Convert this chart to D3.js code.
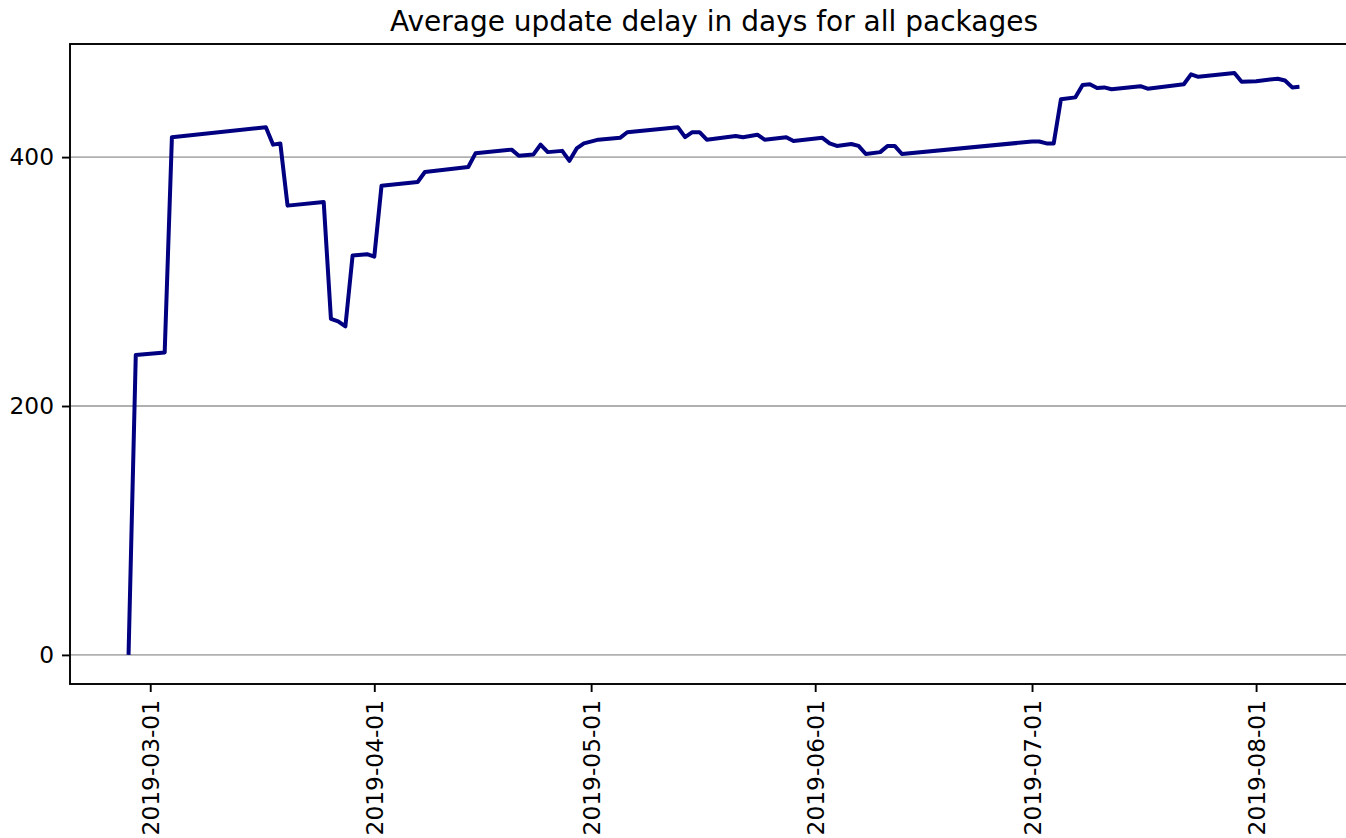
<!DOCTYPE html>
<html>
<head>
<meta charset="utf-8">
<script src="https://cdn.jsdelivr.net/npm/d3@7"></script>
<style>
  body { margin: 0; background: #fff; overflow: hidden; }
  text { font-family: "DejaVu Sans", sans-serif; fill: #000; }
</style>
</head>
<body>
<div id="chart"></div>
<script>
// dates and average delay (days)
var dates = [
  "2019-02-26", "2019-02-27", "2019-03-03", "2019-03-04", "2019-03-17", "2019-03-18",
  "2019-03-19", "2019-03-20", "2019-03-25", "2019-03-26", "2019-03-27", "2019-03-28",
  "2019-03-29", "2019-03-31", "2019-04-01", "2019-04-02", "2019-04-07", "2019-04-08",
  "2019-04-14", "2019-04-15", "2019-04-20", "2019-04-21", "2019-04-23", "2019-04-24",
  "2019-04-25", "2019-04-27", "2019-04-28", "2019-04-29", "2019-04-30", "2019-05-02",
  "2019-05-05", "2019-05-06", "2019-05-13", "2019-05-14", "2019-05-15", "2019-05-16",
  "2019-05-17", "2019-05-21", "2019-05-22", "2019-05-24", "2019-05-25", "2019-05-28",
  "2019-05-29", "2019-06-02", "2019-06-03", "2019-06-04", "2019-06-06", "2019-06-07",
  "2019-06-08", "2019-06-10", "2019-06-11", "2019-06-12", "2019-06-13", "2019-07-01",
  "2019-07-02", "2019-07-03", "2019-07-04", "2019-07-05", "2019-07-07", "2019-07-08",
  "2019-07-09", "2019-07-10", "2019-07-11", "2019-07-12", "2019-07-16", "2019-07-17",
  "2019-07-22", "2019-07-23", "2019-07-24", "2019-07-29", "2019-07-30", "2019-08-01",
  "2019-08-04", "2019-08-05", "2019-08-06", "2019-08-07"
];
var delays = [
  0, 241, 243, 416, 424, 410,
  411, 361, 364, 270, 268, 264,
  321, 322, 320, 377, 380, 388,
  392, 403, 406, 401, 402, 410,
  404, 405, 397, 407, 411, 414,
  415.5, 420, 424, 416, 420, 420,
  414, 417, 416, 418, 414, 416,
  413, 415.5, 411, 409, 410.5, 409,
  402.5, 404, 409, 409, 402.5, 412.5,
  412.5, 411, 411, 446.5, 448, 458,
  458.5, 455.5, 456, 454.5, 457, 455,
  458.5, 466.5, 464.5, 467.5, 460.5, 461,
  463, 461.5, 456, 456.5
];
var yTicks = [0, 200, 400];
var xTicks = ["2019-03-01", "2019-04-01", "2019-05-01", "2019-06-01", "2019-07-01", "2019-08-01"];
var title = "Average update delay in days for all packages";

var width = 1346, height = 838;
var plotLeft = 70, plotRight = 1358, plotTop = 44, plotBottom = 684;

var parse = d3.timeParse("%Y-%m-%d");
var data = dates.map(function(d, i) { return { date: parse(d), value: delays[i] }; });

var svg = d3.select("#chart")
  .append("svg")
    .attr("width", width)
    .attr("height", height);

// matplotlib style 5% margins
var xExt = d3.extent(data, d => d.date);
var xPad = (xExt[1] - xExt[0]) * 0.05;
var x = d3.scaleTime()
  .domain([new Date(+xExt[0] - xPad), new Date(+xExt[1] + xPad)])
  .range([plotLeft, plotRight]);

var yExt = d3.extent(data, d => d.value);
var yPad = (yExt[1] - yExt[0]) * 0.05;
var y = d3.scaleLinear()
  .domain([yExt[0] - yPad, yExt[1] + yPad])
  .range([plotBottom, plotTop]);

// horizontal grid
svg.append("g")
  .selectAll("line")
  .data(yTicks)
  .enter()
  .append("line")
    .attr("x1", plotLeft)
    .attr("x2", plotRight)
    .attr("y1", d => y(d))
    .attr("y2", d => y(d))
    .style("stroke", "#b0b0b0")
    .style("stroke-width", 1.9);

var line = d3.line()
  .x(d => x(d.date))
  .y(d => y(d.value));

svg.append("path")
  .datum(data)
  .attr("d", line)
  .style("fill", "none")
  .style("stroke", "#000080")
  .style("stroke-width", 4)
  .style("stroke-linejoin", "round");

// frame
svg.append("rect")
  .attr("x", plotLeft)
  .attr("y", plotTop)
  .attr("width", plotRight - plotLeft)
  .attr("height", plotBottom - plotTop)
  .style("fill", "none")
  .style("stroke", "#000")
  .style("stroke-width", 1.9);

// y axis
var yAxis = svg.append("g")
  .attr("transform", "translate(" + plotLeft + ",0)")
  .call(d3.axisLeft(y).tickValues(yTicks).tickSize(8).tickPadding(8));
yAxis.select(".domain").remove();
yAxis.selectAll(".tick line").style("stroke", "#000").style("stroke-width", 1.9);
yAxis.selectAll("text")
  .style("font-family", "DejaVu Sans")
  .style("font-size", "23.3px");

// x axis
var xAxis = svg.append("g")
  .attr("transform", "translate(0," + plotBottom + ")")
  .call(d3.axisBottom(x).tickValues(xTicks.map(parse)).tickFormat(d3.timeFormat("%Y-%m-%d")).tickSize(8));
xAxis.select(".domain").remove();
xAxis.selectAll(".tick line").style("stroke", "#000").style("stroke-width", 1.9);
xAxis.selectAll("text")
  .style("font-family", "DejaVu Sans")
  .style("font-size", "23.3px")
  .attr("text-anchor", "end")
  .attr("transform", "rotate(-90)")
  .attr("x", -16)
  .attr("y", 0)
  .attr("dy", "0.35em");

svg.append("text")
  .attr("x", (plotLeft + plotRight) / 2)
  .attr("y", 31)
  .attr("text-anchor", "middle")
  .style("font-size", "28px")
  .text(title);
</script>
</body>
</html>
